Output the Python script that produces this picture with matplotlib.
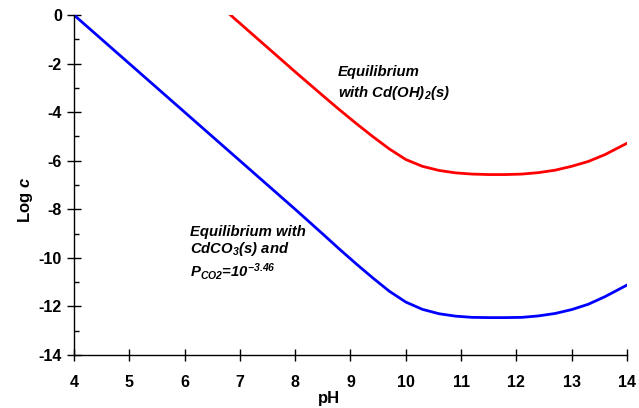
import matplotlib
matplotlib.use('Agg')
import matplotlib.pyplot as plt
from matplotlib.ticker import MultipleLocator

# values
ph_carbonate = [4, 5, 6, 7, 8, 8.5, 8.8, 9.1, 9.4, 9.7, 10.0, 10.3, 10.6, 10.9,
                11.2, 11.5, 11.8, 12.1, 12.4, 12.7, 13.0, 13.3, 13.6, 14.0]
logc_carbonate = [0, -2, -4, -6, -8, -9.02, -9.64, -10.24, -10.82, -11.37, -11.82, -12.12,
                  -12.30, -12.40, -12.45, -12.46, -12.46, -12.45, -12.39, -12.29, -12.13,
                  -11.91, -11.60, -11.12]

ph_hydroxide = [6.83, 7, 8, 8.5, 8.8, 9.1, 9.4, 9.7, 10.0, 10.3, 10.6, 10.9,
                11.2, 11.5, 11.8, 12.1, 12.4, 12.7, 13.0, 13.3, 13.6, 14.0]
logc_hydroxide = [0, -0.34, -2.34, -3.32, -3.9, -4.46, -5.0, -5.51, -5.95, -6.23,
                  -6.40, -6.50, -6.55, -6.57, -6.57, -6.55, -6.49, -6.39, -6.23,
                  -6.03, -5.75, -5.28]

x_ticks = [4, 5, 6, 7, 8, 9, 10, 11, 12, 13, 14]
y_ticks = [0, -2, -4, -6, -8, -10, -12, -14]

plt.rcParams['font.family'] = ['Liberation Sans', 'DejaVu Sans']
plt.rcParams['axes.unicode_minus'] = False
plt.rcParams['mathtext.fontset'] = 'custom'
plt.rcParams['mathtext.rm'] = 'Liberation Sans:bold:italic'
plt.rcParams['mathtext.it'] = 'Liberation Sans:bold:italic'
plt.rcParams['mathtext.bf'] = 'Liberation Sans:bold:italic'

fig = plt.figure(figsize=(6.39, 4.08), dpi=100)
ax = fig.add_axes([0.1158, 0.1299, 0.8654, 0.8333])

ax.plot(ph_carbonate, logc_carbonate, color='#0000FF', linewidth=2, solid_joinstyle='round')
ax.plot(ph_hydroxide, logc_hydroxide, color='#FF0000', linewidth=2, solid_joinstyle='round')

ax.set_xlim(4, 14)
ax.set_ylim(-14, 0)
ax.set_xticks(x_ticks)
ax.set_yticks(y_ticks)
ax.yaxis.set_minor_locator(MultipleLocator(1))

for s in ['top', 'right']:
    ax.spines[s].set_visible(False)
for s in ['left', 'bottom']:
    ax.spines[s].set_linewidth(1)

ax.tick_params(axis='x', which='major', direction='inout', length=9, width=1,
               pad=10, labelsize=11.5)
ax.tick_params(axis='y', which='major', direction='inout', length=9.5, width=1,
               pad=4, labelsize=11.5)
ax.tick_params(axis='y', which='minor', direction='in', length=3.5, width=1)
for lbl in ax.get_xticklabels() + ax.get_yticklabels():
    lbl.set_fontweight('bold')

ax.text(0.461, -0.105, 'pH', transform=ax.transAxes, ha='center', va='top',
        fontsize=12, fontweight='bold')
ax.text(-0.088, 0.456, 'Log $c$', transform=ax.transAxes, ha='center', va='center',
        rotation=90, fontsize=12, fontweight='bold')

note = dict(fontsize=10.7, fontweight='bold', fontstyle='italic', ha='left', va='center')
ax.text(8.77, -2.35, 'Equilibrium', **note)
ax.text(8.77, -3.2, 'with Cd(OH)$_{2}$(s)', **note)
ax.text(6.1, -8.93, 'Equilibrium with', **note)
ax.text(6.1, -9.65, 'CdCO$_{3}$(s) and', **note)
ax.text(6.1, -10.55, 'P$_{CO2}$=10$^{-3.46}$', **note)

fig.savefig('out.png', dpi=100)
